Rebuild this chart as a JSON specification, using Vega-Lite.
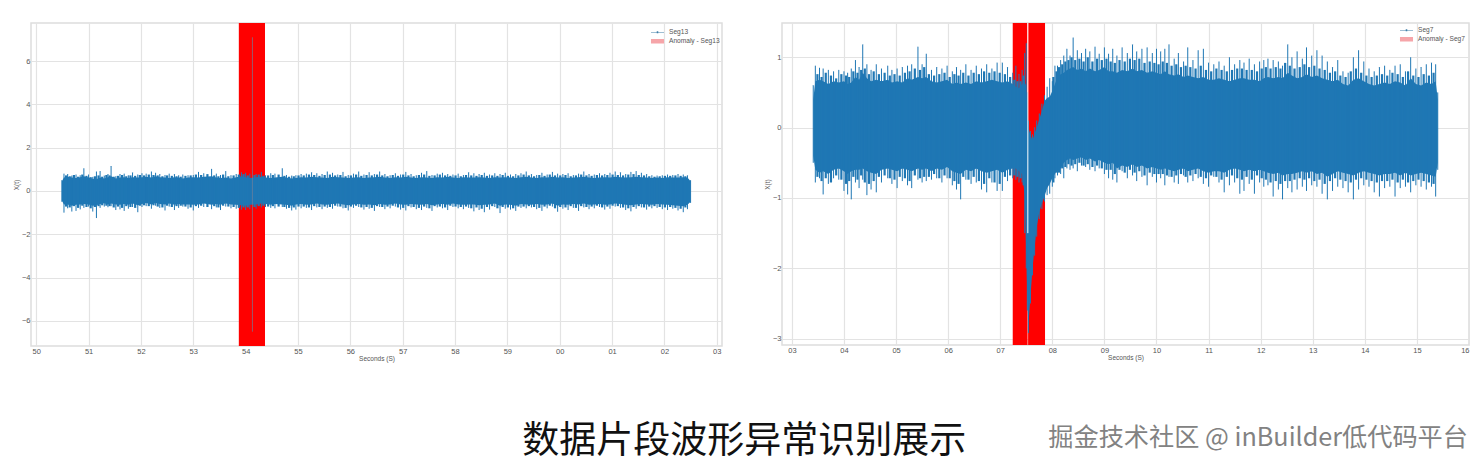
{"$schema":"https://vega.github.io/schema/vega-lite/v6.json","padding":{"left":12,"top":20,"right":0,"bottom":12},"background":"white","spacing":40,"resolve":{"scale":{"color":"independent","shape":"independent"},"legend":{"color":"independent","shape":"independent"}},"title":{"text":"数据片段波形异常识别展示","orient":"bottom","anchor":"start","dx":510,"offset":-28,"font":"Noto Sans CJK SC","fontSize":37,"fontWeight":"normal","color":"#111111"},
"config":{"font":"Liberation Sans","view":{"stroke":"#dddddd","strokeWidth":1.5},"axis":{"grid":true,"gridColor":"#e3e3e3","gridWidth":1.2,"domain":false,"ticks":false,"labelColor":"#555555","labelFontSize":7.5,"titleColor":"#555555","titleFontSize":6.5,"titleFontWeight":"normal","labelPadding":1,"titlePadding":1},"legend":{"labelColor":"#555555","labelFontSize":6.6,"symbolSize":170,"rowPadding":0,"labelOffset":4,"symbolType":"square","clipHeight":8.5,"padding":0}},
"datasets":{"s13":[
{"t":50.49,"a":0.45,"b":-0.45,"h":0.5,"l":-0.5},{"t":50.53,"a":0.62,"b":-0.62,"h":0.8,"l":-1.0},{"t":50.6,"a":0.66,"b":-0.62,"h":0.78,"l":-0.8},{"t":50.68,"a":0.62,"b":-0.68,"h":0.7,"l":-0.95},{"t":50.76,"a":0.6,"b":-0.64,"h":0.76,"l":-0.92},{"t":50.84,"a":0.64,"b":-0.62,"h":0.72,"l":-0.85},{"t":50.91,"a":0.68,"b":-0.6,"h":1.05,"l":-0.78},{"t":51.0,"a":0.62,"b":-0.62,"h":0.76,"l":-0.72},{"t":51.08,"a":0.57,"b":-0.68,"h":0.65,"l":-0.95},{"t":51.15,"a":0.54,"b":-0.66,"h":0.9,"l":-1.25},{"t":51.22,"a":0.62,"b":-0.6,"h":0.92,"l":-0.78},{"t":51.3,"a":0.58,"b":-0.57,"h":0.7,"l":-0.72},{"t":51.37,"a":0.64,"b":-0.62,"h":0.78,"l":-0.75},{"t":51.43,"a":0.68,"b":-0.58,"h":1.15,"l":-0.7},{"t":51.52,"a":0.58,"b":-0.62,"h":0.68,"l":-0.88},{"t":51.6,"a":0.62,"b":-0.64,"h":0.78,"l":-0.85},{"t":51.68,"a":0.64,"b":-0.6,"h":0.8,"l":-0.92},{"t":51.76,"a":0.6,"b":-0.64,"h":0.72,"l":-0.82},{"t":51.84,"a":0.64,"b":-0.58,"h":0.85,"l":-0.74},{"t":51.94,"a":0.62,"b":-0.66,"h":0.76,"l":-0.98},{"t":52.02,"a":0.64,"b":-0.6,"h":0.82,"l":-0.74},{"t":52.1,"a":0.66,"b":-0.56,"h":0.8,"l":-0.7},{"t":52.2,"a":0.62,"b":-0.62,"h":0.9,"l":-0.82},{"t":52.28,"a":0.68,"b":-0.56,"h":0.84,"l":-0.68},{"t":52.36,"a":0.64,"b":-0.6,"h":0.78,"l":-0.78},{"t":52.46,"a":0.62,"b":-0.62,"h":0.74,"l":-0.9},{"t":52.54,"a":0.6,"b":-0.58,"h":0.8,"l":-0.72},{"t":52.64,"a":0.64,"b":-0.64,"h":0.78,"l":-0.88},{"t":52.72,"a":0.62,"b":-0.6,"h":0.72,"l":-0.78},{"t":52.8,"a":0.58,"b":-0.62,"h":0.76,"l":-0.72},{"t":52.9,"a":0.62,"b":-0.62,"h":0.72,"l":-0.82},{"t":53.0,"a":0.64,"b":-0.64,"h":0.74,"l":-0.9},{"t":53.1,"a":0.62,"b":-0.62,"h":0.88,"l":-0.78},{"t":53.2,"a":0.66,"b":-0.58,"h":0.82,"l":-0.74},{"t":53.35,"a":0.68,"b":-0.64,"h":1.02,"l":-0.84},{"t":53.44,"a":0.62,"b":-0.6,"h":0.8,"l":-0.76},{"t":53.52,"a":0.6,"b":-0.64,"h":0.74,"l":-0.88},{"t":53.62,"a":0.62,"b":-0.58,"h":0.92,"l":-0.72},{"t":53.72,"a":0.58,"b":-0.62,"h":0.72,"l":-0.8},{"t":53.82,"a":0.64,"b":-0.64,"h":0.78,"l":-0.82},{"t":53.92,"a":0.68,"b":-0.66,"h":0.86,"l":-0.86},{"t":54.0,"a":0.64,"b":-0.68,"h":0.84,"l":-0.88},{"t":54.08,"a":0.6,"b":-0.64,"h":0.8,"l":-0.84},{"t":54.2,"a":0.64,"b":-0.62,"h":0.78,"l":-0.82},{"t":54.3,"a":0.66,"b":-0.58,"h":0.88,"l":-0.76},{"t":54.38,"a":0.62,"b":-0.6,"h":0.72,"l":-0.74},{"t":54.48,"a":0.6,"b":-0.64,"h":0.82,"l":-0.78},{"t":54.56,"a":0.62,"b":-0.6,"h":0.8,"l":-0.8},{"t":54.7,"a":0.66,"b":-0.62,"h":1.05,"l":-0.74},{"t":54.78,"a":0.62,"b":-0.64,"h":0.74,"l":-0.82},{"t":54.88,"a":0.58,"b":-0.68,"h":0.7,"l":-0.9},{"t":54.96,"a":0.6,"b":-0.62,"h":0.72,"l":-0.86},{"t":55.06,"a":0.64,"b":-0.6,"h":0.78,"l":-0.8},{"t":55.16,"a":0.62,"b":-0.64,"h":0.8,"l":-0.78},{"t":55.26,"a":0.66,"b":-0.62,"h":0.86,"l":-0.88},{"t":55.36,"a":0.64,"b":-0.58,"h":0.82,"l":-0.76},{"t":55.46,"a":0.62,"b":-0.62,"h":0.78,"l":-0.84},{"t":55.56,"a":0.6,"b":-0.64,"h":0.9,"l":-0.78},{"t":55.66,"a":0.66,"b":-0.6,"h":0.84,"l":-0.82},{"t":55.76,"a":0.64,"b":-0.58,"h":0.76,"l":-0.72},{"t":55.86,"a":0.62,"b":-0.62,"h":0.88,"l":-0.8},{"t":55.96,"a":0.6,"b":-0.66,"h":0.74,"l":-0.9},{"t":56.06,"a":0.62,"b":-0.62,"h":0.8,"l":-0.78},{"t":56.16,"a":0.64,"b":-0.6,"h":0.9,"l":-0.74},{"t":56.26,"a":0.6,"b":-0.64,"h":0.76,"l":-0.86},{"t":56.36,"a":0.62,"b":-0.62,"h":0.86,"l":-0.82},{"t":56.46,"a":0.64,"b":-0.66,"h":0.78,"l":-0.92},{"t":56.56,"a":0.66,"b":-0.6,"h":0.9,"l":-0.74},{"t":56.66,"a":0.62,"b":-0.64,"h":0.78,"l":-0.84},{"t":56.76,"a":0.6,"b":-0.62,"h":0.72,"l":-0.8},{"t":56.86,"a":0.64,"b":-0.58,"h":0.82,"l":-0.72},{"t":56.96,"a":0.62,"b":-0.62,"h":0.76,"l":-0.86},{"t":57.06,"a":0.66,"b":-0.64,"h":0.88,"l":-0.9},{"t":57.16,"a":0.62,"b":-0.6,"h":0.78,"l":-0.76},{"t":57.26,"a":0.6,"b":-0.62,"h":0.72,"l":-0.84},{"t":57.36,"a":0.64,"b":-0.64,"h":0.84,"l":-0.88},{"t":57.46,"a":0.62,"b":-0.6,"h":0.92,"l":-0.78},{"t":57.56,"a":0.6,"b":-0.66,"h":0.74,"l":-0.92},{"t":57.66,"a":0.64,"b":-0.62,"h":0.8,"l":-0.76},{"t":57.76,"a":0.62,"b":-0.6,"h":0.84,"l":-0.8},{"t":57.86,"a":0.66,"b":-0.64,"h":0.78,"l":-0.88},{"t":57.96,"a":0.62,"b":-0.58,"h":0.76,"l":-0.74},{"t":58.06,"a":0.6,"b":-0.62,"h":0.8,"l":-0.8},{"t":58.16,"a":0.64,"b":-0.64,"h":0.74,"l":-0.84},{"t":58.26,"a":0.62,"b":-0.62,"h":0.86,"l":-0.78},{"t":58.36,"a":0.62,"b":-0.62,"h":0.82,"l":-0.94},{"t":58.46,"a":0.64,"b":-0.66,"h":0.78,"l":-0.88},{"t":58.56,"a":0.62,"b":-0.64,"h":0.84,"l":-0.98},{"t":58.66,"a":0.6,"b":-0.62,"h":0.76,"l":-0.86},{"t":58.76,"a":0.64,"b":-0.58,"h":0.82,"l":-0.74},{"t":58.86,"a":0.62,"b":-0.68,"h":0.78,"l":-1.02},{"t":58.96,"a":0.64,"b":-0.62,"h":0.84,"l":-0.82},{"t":59.06,"a":0.62,"b":-0.64,"h":0.76,"l":-0.86},{"t":59.16,"a":0.6,"b":-0.68,"h":0.78,"l":-0.92},{"t":59.26,"a":0.64,"b":-0.6,"h":0.82,"l":-0.78},{"t":59.36,"a":0.66,"b":-0.62,"h":0.9,"l":-0.8},{"t":59.46,"a":0.62,"b":-0.64,"h":0.78,"l":-0.76},{"t":59.56,"a":0.6,"b":-0.6,"h":0.74,"l":-0.84},{"t":59.66,"a":0.64,"b":-0.64,"h":0.84,"l":-0.92},{"t":59.76,"a":0.62,"b":-0.62,"h":0.76,"l":-0.8},{"t":59.86,"a":0.66,"b":-0.58,"h":0.88,"l":-0.72},{"t":59.96,"a":0.62,"b":-0.68,"h":0.8,"l":-0.96},{"t":60.06,"a":0.64,"b":-0.62,"h":0.78,"l":-0.82},{"t":60.16,"a":0.6,"b":-0.64,"h":0.82,"l":-0.88},{"t":60.26,"a":0.62,"b":-0.6,"h":0.74,"l":-0.78},{"t":60.36,"a":0.64,"b":-0.62,"h":0.8,"l":-0.92},{"t":60.46,"a":0.66,"b":-0.58,"h":0.9,"l":-0.76},{"t":60.56,"a":0.62,"b":-0.64,"h":0.78,"l":-0.84},{"t":60.66,"a":0.6,"b":-0.62,"h":0.76,"l":-0.8},{"t":60.76,"a":0.62,"b":-0.6,"h":0.82,"l":-0.74},{"t":60.86,"a":0.64,"b":-0.64,"h":0.78,"l":-0.86},{"t":60.96,"a":0.62,"b":-0.62,"h":0.84,"l":-0.82},{"t":61.06,"a":0.66,"b":-0.58,"h":0.9,"l":-0.72},{"t":61.16,"a":0.64,"b":-0.6,"h":0.86,"l":-0.78},{"t":61.26,"a":0.62,"b":-0.64,"h":0.78,"l":-0.88},{"t":61.36,"a":0.64,"b":-0.66,"h":0.88,"l":-0.94},{"t":61.46,"a":0.66,"b":-0.62,"h":0.92,"l":-0.82},{"t":61.56,"a":0.64,"b":-0.6,"h":0.84,"l":-0.76},{"t":61.66,"a":0.62,"b":-0.62,"h":0.78,"l":-0.86},{"t":61.76,"a":0.6,"b":-0.64,"h":0.72,"l":-0.8},{"t":61.86,"a":0.62,"b":-0.6,"h":0.7,"l":-0.78},{"t":61.96,"a":0.6,"b":-0.62,"h":0.72,"l":-0.84},{"t":62.06,"a":0.64,"b":-0.64,"h":0.76,"l":-0.88},{"t":62.16,"a":0.62,"b":-0.66,"h":0.74,"l":-0.82},{"t":62.26,"a":0.62,"b":-0.68,"h":0.78,"l":-0.9},{"t":62.36,"a":0.64,"b":-0.7,"h":0.76,"l":-0.98},{"t":62.44,"a":0.62,"b":-0.64,"h":0.72,"l":-0.84},{"t":62.5,"a":0.45,"b":-0.5,"h":0.5,"l":-0.55}],
"s13b":[
{"t":50.57,"h":0.72,"l":-0.72},{"t":50.64,"h":0.68,"l":-0.76},{"t":50.72,"h":0.74,"l":-0.7},{"t":50.8,"h":0.66,"l":-0.78},{"t":50.88,"h":0.76,"l":-0.68},{"t":50.96,"h":0.7,"l":-0.74},{"t":51.04,"h":0.64,"l":-0.8},{"t":51.12,"h":0.68,"l":-0.74},{"t":51.19,"h":0.72,"l":-0.7},{"t":51.26,"h":0.66,"l":-0.66},{"t":51.34,"h":0.74,"l":-0.68},{"t":51.4,"h":0.72,"l":-0.7},{"t":51.48,"h":0.66,"l":-0.76},{"t":51.56,"h":0.7,"l":-0.72},{"t":51.64,"h":0.74,"l":-0.78},{"t":51.72,"h":0.68,"l":-0.7},{"t":51.8,"h":0.72,"l":-0.74},{"t":51.89,"h":0.7,"l":-0.78},{"t":51.98,"h":0.74,"l":-0.68},{"t":52.06,"h":0.72,"l":-0.66},{"t":52.15,"h":0.76,"l":-0.7},{"t":52.24,"h":0.74,"l":-0.66},{"t":52.32,"h":0.72,"l":-0.72},{"t":52.41,"h":0.68,"l":-0.76},{"t":52.5,"h":0.72,"l":-0.68},{"t":52.59,"h":0.7,"l":-0.74},{"t":52.68,"h":0.68,"l":-0.7},{"t":52.76,"h":0.66,"l":-0.68},{"t":52.85,"h":0.7,"l":-0.72},{"t":52.95,"h":0.72,"l":-0.76},{"t":53.05,"h":0.76,"l":-0.7},{"t":53.15,"h":0.74,"l":-0.68},{"t":53.27,"h":0.78,"l":-0.74},{"t":53.4,"h":0.72,"l":-0.7},{"t":53.48,"h":0.68,"l":-0.76},{"t":53.57,"h":0.76,"l":-0.68},{"t":53.67,"h":0.68,"l":-0.72},{"t":53.77,"h":0.72,"l":-0.74},{"t":53.87,"h":0.76,"l":-0.78},{"t":53.96,"h":0.78,"l":-0.76},{"t":54.04,"h":0.72,"l":-0.76},{"t":54.17,"h":0.74,"l":-0.74},{"t":54.25,"h":0.76,"l":-0.7},{"t":54.34,"h":0.7,"l":-0.68},{"t":54.43,"h":0.72,"l":-0.72},{"t":54.52,"h":0.74,"l":-0.7},{"t":54.63,"h":0.76,"l":-0.72},{"t":54.74,"h":0.7,"l":-0.74},{"t":54.83,"h":0.66,"l":-0.78},{"t":54.92,"h":0.68,"l":-0.76},{"t":55.01,"h":0.72,"l":-0.72},{"t":55.11,"h":0.72,"l":-0.72},{"t":55.21,"h":0.76,"l":-0.76},{"t":55.31,"h":0.74,"l":-0.7},{"t":55.41,"h":0.7,"l":-0.74},{"t":55.51,"h":0.74,"l":-0.72},{"t":55.61,"h":0.76,"l":-0.74},{"t":55.71,"h":0.72,"l":-0.68},{"t":55.81,"h":0.74,"l":-0.72},{"t":55.91,"h":0.68,"l":-0.78},{"t":56.01,"h":0.72,"l":-0.72},{"t":56.11,"h":0.76,"l":-0.68},{"t":56.21,"h":0.7,"l":-0.76},{"t":56.31,"h":0.74,"l":-0.74},{"t":56.41,"h":0.72,"l":-0.78},{"t":56.51,"h":0.76,"l":-0.7},{"t":56.61,"h":0.72,"l":-0.74},{"t":56.71,"h":0.68,"l":-0.72},{"t":56.81,"h":0.74,"l":-0.68},{"t":56.91,"h":0.7,"l":-0.76},{"t":57.01,"h":0.76,"l":-0.78},{"t":57.11,"h":0.72,"l":-0.7},{"t":57.21,"h":0.68,"l":-0.74},{"t":57.31,"h":0.74,"l":-0.78},{"t":57.41,"h":0.76,"l":-0.72},{"t":57.51,"h":0.7,"l":-0.8},{"t":57.61,"h":0.72,"l":-0.7},{"t":57.71,"h":0.76,"l":-0.72},{"t":57.81,"h":0.72,"l":-0.76},{"t":57.91,"h":0.7,"l":-0.68},{"t":58.01,"h":0.72,"l":-0.72},{"t":58.11,"h":0.68,"l":-0.74},{"t":58.21,"h":0.74,"l":-0.72},{"t":58.31,"h":0.72,"l":-0.8},{"t":58.41,"h":0.7,"l":-0.76},{"t":58.51,"h":0.74,"l":-0.82},{"t":58.61,"h":0.7,"l":-0.74},{"t":58.71,"h":0.72,"l":-0.7},{"t":58.81,"h":0.7,"l":-0.8},{"t":58.91,"h":0.74,"l":-0.74},{"t":59.01,"h":0.7,"l":-0.76},{"t":59.11,"h":0.68,"l":-0.8},{"t":59.21,"h":0.72,"l":-0.72},{"t":59.31,"h":0.76,"l":-0.72},{"t":59.41,"h":0.72,"l":-0.7},{"t":59.51,"h":0.68,"l":-0.74},{"t":59.61,"h":0.74,"l":-0.78},{"t":59.71,"h":0.7,"l":-0.72},{"t":59.81,"h":0.76,"l":-0.68},{"t":59.91,"h":0.72,"l":-0.8},{"t":60.01,"h":0.72,"l":-0.74},{"t":60.11,"h":0.74,"l":-0.76},{"t":60.21,"h":0.68,"l":-0.7},{"t":60.31,"h":0.72,"l":-0.78},{"t":60.41,"h":0.76,"l":-0.7},{"t":60.51,"h":0.72,"l":-0.74},{"t":60.61,"h":0.7,"l":-0.72},{"t":60.71,"h":0.74,"l":-0.68},{"t":60.81,"h":0.72,"l":-0.76},{"t":60.91,"h":0.74,"l":-0.72},{"t":61.01,"h":0.76,"l":-0.68},{"t":61.11,"h":0.74,"l":-0.7},{"t":61.21,"h":0.72,"l":-0.76},{"t":61.31,"h":0.76,"l":-0.8},{"t":61.41,"h":0.78,"l":-0.74},{"t":61.51,"h":0.74,"l":-0.7},{"t":61.61,"h":0.72,"l":-0.76},{"t":61.71,"h":0.68,"l":-0.72},{"t":61.81,"h":0.66,"l":-0.7},{"t":61.91,"h":0.68,"l":-0.74},{"t":62.01,"h":0.7,"l":-0.76},{"t":62.11,"h":0.7,"l":-0.74},{"t":62.21,"h":0.72,"l":-0.78},{"t":62.31,"h":0.7,"l":-0.82},{"t":62.4,"h":0.68,"l":-0.76}],
"s7":[
{"t":3.41,"a":0.4,"b":-0.4,"h":0.6,"l":-0.5},{"t":3.45,"a":0.66,"b":-0.6,"h":0.88,"l":-0.78},{"t":3.53,"a":0.68,"b":-0.64,"h":0.85,"l":-0.72},{"t":3.6,"a":0.66,"b":-0.62,"h":0.84,"l":-0.95},{"t":3.7,"a":0.62,"b":-0.66,"h":0.82,"l":-0.8},{"t":3.8,"a":0.66,"b":-0.6,"h":0.8,"l":-0.72},{"t":3.9,"a":0.64,"b":-0.58,"h":0.82,"l":-0.74},{"t":4.0,"a":0.66,"b":-0.62,"h":0.8,"l":-0.9},{"t":4.07,"a":0.62,"b":-0.66,"h":0.78,"l":-0.95},{"t":4.14,"a":0.64,"b":-0.62,"h":0.84,"l":-1.02},{"t":4.22,"a":0.72,"b":-0.6,"h":0.96,"l":-0.78},{"t":4.29,"a":0.68,"b":-0.6,"h":0.86,"l":-0.86},{"t":4.36,"a":0.78,"b":-0.58,"h":1.18,"l":-0.74},{"t":4.44,"a":0.7,"b":-0.62,"h":0.9,"l":-0.96},{"t":4.52,"a":0.66,"b":-0.64,"h":0.82,"l":-0.88},{"t":4.62,"a":0.68,"b":-0.66,"h":0.9,"l":-0.92},{"t":4.72,"a":0.66,"b":-0.6,"h":0.84,"l":-0.78},{"t":4.84,"a":0.68,"b":-0.58,"h":0.88,"l":-0.72},{"t":4.92,"a":0.64,"b":-0.6,"h":0.82,"l":-0.8},{"t":5.02,"a":0.66,"b":-0.62,"h":0.84,"l":-0.86},{"t":5.12,"a":0.64,"b":-0.58,"h":0.86,"l":-0.76},{"t":5.22,"a":0.7,"b":-0.6,"h":0.88,"l":-0.82},{"t":5.3,"a":0.68,"b":-0.62,"h":0.9,"l":-0.86},{"t":5.42,"a":0.72,"b":-0.58,"h":1.15,"l":-0.74},{"t":5.5,"a":0.7,"b":-0.6,"h":0.9,"l":-0.78},{"t":5.58,"a":0.72,"b":-0.58,"h":1.05,"l":-0.76},{"t":5.68,"a":0.66,"b":-0.62,"h":0.82,"l":-0.74},{"t":5.78,"a":0.64,"b":-0.58,"h":0.86,"l":-0.72},{"t":5.88,"a":0.66,"b":-0.6,"h":0.84,"l":-0.78},{"t":5.98,"a":0.68,"b":-0.56,"h":0.88,"l":-0.72},{"t":6.08,"a":0.62,"b":-0.62,"h":0.8,"l":-0.82},{"t":6.16,"a":0.64,"b":-0.64,"h":0.86,"l":-0.88},{"t":6.24,"a":0.62,"b":-0.66,"h":0.82,"l":-1.02},{"t":6.34,"a":0.64,"b":-0.6,"h":0.9,"l":-0.74},{"t":6.44,"a":0.62,"b":-0.62,"h":0.82,"l":-0.8},{"t":6.54,"a":0.66,"b":-0.58,"h":0.88,"l":-0.78},{"t":6.64,"a":0.64,"b":-0.62,"h":0.84,"l":-0.88},{"t":6.74,"a":0.66,"b":-0.64,"h":0.9,"l":-0.92},{"t":6.84,"a":0.68,"b":-0.62,"h":0.84,"l":-0.78},{"t":6.94,"a":0.66,"b":-0.6,"h":0.92,"l":-0.9},{"t":7.04,"a":0.64,"b":-0.64,"h":0.92,"l":-0.9},{"t":7.14,"a":0.66,"b":-0.6,"h":0.86,"l":-0.76},{"t":7.24,"a":0.62,"b":-0.58,"h":0.78,"l":-0.72},{"t":7.3,"a":0.58,"b":-0.58,"h":0.88,"l":-0.74},{"t":7.36,"a":0.56,"b":-0.62,"h":0.76,"l":-0.78},{"t":7.42,"a":0.62,"b":-0.66,"h":0.82,"l":-0.78},{"t":7.47,"a":0.64,"b":-0.95,"h":1.06,"l":-1.5},{"t":7.5,"a":0.6,"b":-1.8,"h":1.2,"l":-2.0},{"t":7.52,"a":0.3,"b":-2.4,"h":0.5,"l":-2.6},{"t":7.54,"a":0.0,"b":-2.82,"h":0.1,"l":-2.92},{"t":7.58,"a":-0.1,"b":-2.4,"h":-0.05,"l":-2.5},{"t":7.62,"a":-0.18,"b":-2.0,"h":-0.1,"l":-2.1},{"t":7.66,"a":-0.08,"b":-1.7,"h":0.0,"l":-1.82},{"t":7.7,"a":0.0,"b":-1.42,"h":0.1,"l":-1.55},{"t":7.75,"a":0.12,"b":-1.2,"h":0.2,"l":-1.3},{"t":7.8,"a":0.24,"b":-1.08,"h":0.34,"l":-1.16},{"t":7.85,"a":0.38,"b":-0.98,"h":0.46,"l":-1.05},{"t":7.9,"a":0.42,"b":-0.86,"h":0.58,"l":-0.96},{"t":7.95,"a":0.44,"b":-0.8,"h":0.7,"l":-0.94},{"t":8.0,"a":0.52,"b":-0.72,"h":0.66,"l":-0.84},{"t":8.05,"a":0.62,"b":-0.66,"h":0.88,"l":-0.72},{"t":8.1,"a":0.72,"b":-0.6,"h":0.88,"l":-0.68},{"t":8.16,"a":0.76,"b":-0.58,"h":0.96,"l":-0.66},{"t":8.22,"a":0.78,"b":-0.5,"h":1.02,"l":-0.72},{"t":8.28,"a":0.82,"b":-0.46,"h":1.12,"l":-0.58},{"t":8.34,"a":0.84,"b":-0.44,"h":1.02,"l":-0.6},{"t":8.4,"a":0.86,"b":-0.46,"h":1.28,"l":-0.58},{"t":8.48,"a":0.82,"b":-0.44,"h":1.1,"l":-0.62},{"t":8.56,"a":0.84,"b":-0.42,"h":1.06,"l":-0.54},{"t":8.64,"a":0.8,"b":-0.46,"h":1.12,"l":-0.56},{"t":8.72,"a":0.84,"b":-0.44,"h":1.08,"l":-0.6},{"t":8.82,"a":0.8,"b":-0.48,"h":1.15,"l":-0.62},{"t":8.9,"a":0.82,"b":-0.46,"h":1.05,"l":-0.58},{"t":9.0,"a":0.86,"b":-0.5,"h":1.14,"l":-0.66},{"t":9.08,"a":0.8,"b":-0.52,"h":1.05,"l":-0.72},{"t":9.16,"a":0.8,"b":-0.5,"h":1.12,"l":-0.74},{"t":9.24,"a":0.78,"b":-0.58,"h":1.02,"l":-0.78},{"t":9.34,"a":0.82,"b":-0.54,"h":1.14,"l":-0.62},{"t":9.44,"a":0.8,"b":-0.56,"h":1.06,"l":-0.72},{"t":9.54,"a":0.84,"b":-0.52,"h":1.18,"l":-0.68},{"t":9.62,"a":0.8,"b":-0.56,"h":1.08,"l":-0.76},{"t":9.72,"a":0.82,"b":-0.54,"h":1.12,"l":-0.7},{"t":9.82,"a":0.78,"b":-0.58,"h":1.14,"l":-0.82},{"t":9.92,"a":0.8,"b":-0.56,"h":1.06,"l":-0.7},{"t":10.0,"a":0.78,"b":-0.58,"h":1.12,"l":-0.78},{"t":10.08,"a":0.76,"b":-0.6,"h":1.08,"l":-0.72},{"t":10.16,"a":0.8,"b":-0.58,"h":1.12,"l":-0.82},{"t":10.24,"a":0.76,"b":-0.6,"h":1.18,"l":-0.7},{"t":10.34,"a":0.74,"b":-0.62,"h":0.98,"l":-0.78},{"t":10.42,"a":0.76,"b":-0.6,"h":1.06,"l":-0.8},{"t":10.52,"a":0.72,"b":-0.58,"h":0.94,"l":-0.68},{"t":10.6,"a":0.74,"b":-0.62,"h":1.14,"l":-0.78},{"t":10.7,"a":0.72,"b":-0.6,"h":0.96,"l":-0.76},{"t":10.8,"a":0.7,"b":-0.58,"h":1.1,"l":-0.72},{"t":10.9,"a":0.72,"b":-0.62,"h":1.12,"l":-0.8},{"t":11.0,"a":0.68,"b":-0.64,"h":0.92,"l":-0.84},{"t":11.1,"a":0.68,"b":-0.62,"h":0.9,"l":-0.7},{"t":11.2,"a":0.7,"b":-0.62,"h":0.94,"l":-0.78},{"t":11.3,"a":0.68,"b":-0.64,"h":0.88,"l":-0.92},{"t":11.4,"a":0.66,"b":-0.6,"h":1.0,"l":-0.82},{"t":11.5,"a":0.68,"b":-0.58,"h":0.9,"l":-0.78},{"t":11.6,"a":0.7,"b":-0.6,"h":0.96,"l":-0.94},{"t":11.68,"a":0.7,"b":-0.62,"h":0.92,"l":-0.9},{"t":11.78,"a":0.68,"b":-0.6,"h":0.98,"l":-0.8},{"t":11.88,"a":0.68,"b":-0.62,"h":0.9,"l":-0.94},{"t":11.98,"a":0.66,"b":-0.6,"h":0.94,"l":-0.78},{"t":12.06,"a":0.7,"b":-0.62,"h":0.96,"l":-0.84},{"t":12.14,"a":0.72,"b":-0.64,"h":0.98,"l":-0.82},{"t":12.24,"a":0.7,"b":-0.66,"h":0.96,"l":-0.98},{"t":12.34,"a":0.72,"b":-0.64,"h":0.94,"l":-0.88},{"t":12.42,"a":0.7,"b":-0.68,"h":0.88,"l":-1.02},{"t":12.52,"a":0.78,"b":-0.66,"h":1.18,"l":-0.86},{"t":12.6,"a":0.74,"b":-0.66,"h":1.0,"l":-0.92},{"t":12.7,"a":0.7,"b":-0.64,"h":1.08,"l":-0.88},{"t":12.8,"a":0.72,"b":-0.62,"h":0.98,"l":-0.84},{"t":12.88,"a":0.76,"b":-0.64,"h":1.14,"l":-0.9},{"t":12.98,"a":0.72,"b":-0.62,"h":1.02,"l":-0.82},{"t":13.08,"a":0.74,"b":-0.66,"h":1.1,"l":-0.84},{"t":13.18,"a":0.7,"b":-0.64,"h":1.02,"l":-0.94},{"t":13.28,"a":0.68,"b":-0.7,"h":0.94,"l":-1.02},{"t":13.38,"a":0.66,"b":-0.66,"h":0.86,"l":-0.9},{"t":13.48,"a":0.68,"b":-0.62,"h":0.96,"l":-0.84},{"t":13.58,"a":0.62,"b":-0.64,"h":0.8,"l":-0.86},{"t":13.68,"a":0.6,"b":-0.66,"h":0.78,"l":-0.92},{"t":13.78,"a":0.68,"b":-0.68,"h":1.0,"l":-1.02},{"t":13.88,"a":0.7,"b":-0.64,"h":1.1,"l":-0.88},{"t":13.98,"a":0.66,"b":-0.62,"h":0.94,"l":-0.82},{"t":14.08,"a":0.62,"b":-0.64,"h":0.84,"l":-0.84},{"t":14.18,"a":0.6,"b":-0.66,"h":0.8,"l":-0.92},{"t":14.28,"a":0.62,"b":-0.68,"h":0.86,"l":-0.98},{"t":14.38,"a":0.64,"b":-0.66,"h":0.88,"l":-0.86},{"t":14.48,"a":0.62,"b":-0.66,"h":0.82,"l":-0.84},{"t":14.58,"a":0.66,"b":-0.64,"h":0.88,"l":-0.98},{"t":14.68,"a":0.64,"b":-0.68,"h":0.9,"l":-0.86},{"t":14.78,"a":0.6,"b":-0.64,"h":0.8,"l":-0.84},{"t":14.88,"a":0.7,"b":-0.68,"h":1.0,"l":-0.92},{"t":14.98,"a":0.62,"b":-0.66,"h":0.84,"l":-0.82},{"t":15.08,"a":0.6,"b":-0.64,"h":0.86,"l":-0.84},{"t":15.18,"a":0.64,"b":-0.66,"h":0.9,"l":-0.88},{"t":15.28,"a":0.62,"b":-0.68,"h":0.92,"l":-0.84},{"t":15.36,"a":0.66,"b":-0.7,"h":0.9,"l":-0.98},{"t":15.4,"a":0.4,"b":-0.5,"h":0.5,"l":-0.6}],
"s7b":[
{"t":3.49,"h":0.76,"l":-0.7},{"t":3.57,"h":0.72,"l":-0.76},{"t":3.65,"h":0.78,"l":-0.72},{"t":3.75,"h":0.74,"l":-0.78},{"t":3.85,"h":0.7,"l":-0.68},{"t":3.95,"h":0.76,"l":-0.74},{"t":4.04,"h":0.74,"l":-0.8},{"t":4.1,"h":0.72,"l":-0.76},{"t":4.18,"h":0.8,"l":-0.7},{"t":4.26,"h":0.78,"l":-0.74},{"t":4.33,"h":0.82,"l":-0.68},{"t":4.4,"h":0.84,"l":-0.78},{"t":4.48,"h":0.76,"l":-0.8},{"t":4.57,"h":0.8,"l":-0.76},{"t":4.67,"h":0.76,"l":-0.7},{"t":4.78,"h":0.78,"l":-0.68},{"t":4.88,"h":0.74,"l":-0.72},{"t":4.97,"h":0.76,"l":-0.74},{"t":5.07,"h":0.74,"l":-0.7},{"t":5.17,"h":0.78,"l":-0.72},{"t":5.26,"h":0.8,"l":-0.76},{"t":5.36,"h":0.84,"l":-0.68},{"t":5.46,"h":0.82,"l":-0.72},{"t":5.54,"h":0.86,"l":-0.7},{"t":5.63,"h":0.76,"l":-0.7},{"t":5.73,"h":0.74,"l":-0.66},{"t":5.83,"h":0.76,"l":-0.72},{"t":5.93,"h":0.78,"l":-0.68},{"t":6.03,"h":0.72,"l":-0.72},{"t":6.12,"h":0.76,"l":-0.76},{"t":6.2,"h":0.74,"l":-0.8},{"t":6.29,"h":0.78,"l":-0.7},{"t":6.39,"h":0.74,"l":-0.74},{"t":6.49,"h":0.78,"l":-0.7},{"t":6.59,"h":0.76,"l":-0.76},{"t":6.69,"h":0.8,"l":-0.8},{"t":6.79,"h":0.78,"l":-0.72},{"t":6.89,"h":0.8,"l":-0.78},{"t":6.99,"h":0.78,"l":-0.8},{"t":7.09,"h":0.76,"l":-0.7},{"t":7.19,"h":0.72,"l":-0.68},{"t":7.27,"h":0.68,"l":-0.68},{"t":7.33,"h":0.66,"l":-0.7},{"t":7.39,"h":0.66,"l":-0.72},{"t":7.45,"h":0.74,"l":-0.82},{"t":8.02,"h":0.72,"l":-0.78},{"t":8.08,"h":0.8,"l":-0.64},{"t":8.13,"h":0.86,"l":-0.64},{"t":8.19,"h":0.9,"l":-0.58},{"t":8.25,"h":0.94,"l":-0.56},{"t":8.31,"h":0.96,"l":-0.52},{"t":8.37,"h":1.0,"l":-0.54},{"t":8.44,"h":0.96,"l":-0.52},{"t":8.52,"h":0.98,"l":-0.5},{"t":8.6,"h":0.94,"l":-0.54},{"t":8.68,"h":1.0,"l":-0.52},{"t":8.77,"h":0.94,"l":-0.56},{"t":8.86,"h":0.98,"l":-0.54},{"t":8.95,"h":0.96,"l":-0.58},{"t":9.04,"h":0.98,"l":-0.6},{"t":9.12,"h":0.94,"l":-0.6},{"t":9.2,"h":0.92,"l":-0.66},{"t":9.29,"h":0.96,"l":-0.6},{"t":9.39,"h":0.94,"l":-0.64},{"t":9.49,"h":0.98,"l":-0.6},{"t":9.58,"h":0.96,"l":-0.64},{"t":9.67,"h":0.98,"l":-0.62},{"t":9.77,"h":0.92,"l":-0.68},{"t":9.87,"h":0.94,"l":-0.64},{"t":9.96,"h":0.92,"l":-0.66},{"t":10.04,"h":0.9,"l":-0.66},{"t":10.12,"h":0.94,"l":-0.66},{"t":10.2,"h":0.92,"l":-0.68},{"t":10.29,"h":0.88,"l":-0.7},{"t":10.38,"h":0.9,"l":-0.68},{"t":10.47,"h":0.86,"l":-0.66},{"t":10.56,"h":0.88,"l":-0.7},{"t":10.65,"h":0.86,"l":-0.68},{"t":10.75,"h":0.84,"l":-0.66},{"t":10.85,"h":0.88,"l":-0.7},{"t":10.95,"h":0.82,"l":-0.72},{"t":11.05,"h":0.8,"l":-0.68},{"t":11.15,"h":0.84,"l":-0.7},{"t":11.25,"h":0.82,"l":-0.74},{"t":11.35,"h":0.8,"l":-0.7},{"t":11.45,"h":0.82,"l":-0.68},{"t":11.55,"h":0.84,"l":-0.72},{"t":11.64,"h":0.84,"l":-0.74},{"t":11.73,"h":0.82,"l":-0.7},{"t":11.83,"h":0.82,"l":-0.74},{"t":11.93,"h":0.8,"l":-0.68},{"t":12.02,"h":0.84,"l":-0.72},{"t":12.1,"h":0.86,"l":-0.74},{"t":12.19,"h":0.84,"l":-0.78},{"t":12.29,"h":0.86,"l":-0.76},{"t":12.38,"h":0.84,"l":-0.8},{"t":12.47,"h":0.92,"l":-0.76},{"t":12.56,"h":0.88,"l":-0.76},{"t":12.65,"h":0.84,"l":-0.74},{"t":12.75,"h":0.86,"l":-0.72},{"t":12.84,"h":0.9,"l":-0.74},{"t":12.93,"h":0.86,"l":-0.72},{"t":13.03,"h":0.88,"l":-0.76},{"t":13.13,"h":0.84,"l":-0.74},{"t":13.23,"h":0.82,"l":-0.8},{"t":13.33,"h":0.78,"l":-0.76},{"t":13.43,"h":0.8,"l":-0.72},{"t":13.53,"h":0.74,"l":-0.74},{"t":13.63,"h":0.72,"l":-0.76},{"t":13.73,"h":0.8,"l":-0.78},{"t":13.83,"h":0.84,"l":-0.74},{"t":13.93,"h":0.78,"l":-0.72},{"t":14.03,"h":0.74,"l":-0.74},{"t":14.13,"h":0.72,"l":-0.76},{"t":14.23,"h":0.74,"l":-0.78},{"t":14.33,"h":0.76,"l":-0.76},{"t":14.43,"h":0.74,"l":-0.76},{"t":14.53,"h":0.78,"l":-0.74},{"t":14.63,"h":0.76,"l":-0.78},{"t":14.73,"h":0.72,"l":-0.74},{"t":14.83,"h":0.8,"l":-0.78},{"t":14.93,"h":0.74,"l":-0.76},{"t":15.03,"h":0.72,"l":-0.74},{"t":15.13,"h":0.76,"l":-0.76},{"t":15.23,"h":0.74,"l":-0.78},{"t":15.32,"h":0.78,"l":-0.8}]},
"hconcat":[
{"width":691,"height":323,"title":{"text":" ","fontSize":1,"offset":1},"layer":[
{"data":{"values":[{"s":53.87,"e":54.37}]},"mark":{"type":"rect","color":"#ff0000"},"encoding":{"x":{"field":"s","type":"quantitative","scale":{"domain":[49.9,63.1],"nice":false},"axis":{"title":"Seconds (S)","values":[50,51,52,53,54,55,56,57,58,59,60,61,62,63],"labelExpr":"datum.value>=60?'0'+(datum.value-60):''+datum.value"},"title":"Seconds (S)"},"x2":{"field":"e"},"y":{"datum":-7.16,"type":"quantitative","scale":{"domain":[-7.16,7.76],"nice":false},"axis":{"title":"X(t)","values":[-6,-4,-2,0,2,4,6],"format":"d","labelExpr":"replace(datum.label,'-','−')","titleX":-12}},"y2":{"datum":7.76}}},
{"data":{"name":"s13"},"mark":{"type":"area","color":"#1f77b4","opacity":1},"encoding":{"x":{"field":"t","type":"quantitative"},"y":{"field":"a","type":"quantitative"},"y2":{"field":"b"}}},
{"data":{"name":"s13"},"mark":{"type":"rule","color":"#1f77b4","strokeWidth":1},"encoding":{"x":{"field":"t","type":"quantitative"},"y":{"field":"h","type":"quantitative"},"y2":{"field":"l"}}},
{"data":{"name":"s13b"},"mark":{"type":"rule","color":"#1f77b4","strokeWidth":2.2},"encoding":{"x":{"field":"t","type":"quantitative"},"y":{"field":"h","type":"quantitative"},"y2":{"field":"l"}}},
{"data":{"values":[{"t":54.13,"h":7.1,"l":-6.5}]},"mark":{"type":"rule","color":"#6f7f9a","strokeWidth":0.7},"encoding":{"x":{"field":"t","type":"quantitative"},"y":{"field":"h","type":"quantitative"},"y2":{"field":"l"}}},
{"data":{"name":"s13"},"mark":{"type":"point","filled":true,"size":2,"opacity":1},"encoding":{"x":{"field":"t","type":"quantitative"},"y":{"field":"h","type":"quantitative"},"color":{"datum":"Seg13","scale":{"domain":["Seg13","Anomaly - Seg13"],"range":["#3f7fa8","#f6a5a9"]},"legend":{"title":null,"orient":"none","legendX":619,"legendY":5}},"shape":{"datum":"Seg13","scale":{"domain":["Seg13","Anomaly - Seg13"],"range":["M-1,-.05H-.12V-.14H.12V-.05H1V.05H.12V.14H-.12V.05H-1Z","M-1,-.36H1V.36H-1Z"]}}}}
]},
{"width":687,"height":322,"title":{"text":"掘金技术社区 @ inBuilder低代码平台","orient":"bottom","anchor":"end","dx":-1,"offset":65,"font":"Noto Sans CJK SC","fontSize":25.2,"fontWeight":"normal","color":"#828282"},"layer":[
{"data":{"values":[{"s":7.24,"e":7.525},{"s":7.535,"e":7.86}]},"mark":{"type":"rect","color":"#ff0000"},"encoding":{"x":{"field":"s","type":"quantitative","scale":{"domain":[2.81,16],"nice":false},"axis":{"title":"Seconds (S)","values":[3,4,5,6,7,8,9,10,11,12,13,14,15,16],"format":"02d"},"title":"Seconds (S)"},"x2":{"field":"e"},"y":{"datum":-3.09,"type":"quantitative","scale":{"domain":[-3.09,1.487],"nice":false},"axis":{"title":"X(t)","values":[-3,-2,-1,0,1],"format":"d","labelExpr":"replace(datum.label,'-','−')","titleX":-12}},"y2":{"datum":1.487}}},
{"data":{"name":"s7"},"mark":{"type":"area","color":"#1f77b4","opacity":1},"encoding":{"x":{"field":"t","type":"quantitative"},"y":{"field":"a","type":"quantitative"},"y2":{"field":"b"}}},
{"data":{"name":"s7"},"mark":{"type":"rule","color":"#1f77b4","strokeWidth":1},"encoding":{"x":{"field":"t","type":"quantitative"},"y":{"field":"h","type":"quantitative"},"y2":{"field":"l"}}},
{"data":{"name":"s7b"},"mark":{"type":"rule","color":"#1f77b4","strokeWidth":2.2},"encoding":{"x":{"field":"t","type":"quantitative"},"y":{"field":"h","type":"quantitative"},"y2":{"field":"l"}}},
{"data":{"values":[{"t":7.53,"h":1.487,"l":-1.5}]},"mark":{"type":"rule","color":"#ffffff","strokeWidth":1},"encoding":{"x":{"field":"t","type":"quantitative"},"y":{"field":"h","type":"quantitative"},"y2":{"field":"l"}}},
{"data":{"name":"s7"},"mark":{"type":"point","filled":true,"size":2,"opacity":1},"encoding":{"x":{"field":"t","type":"quantitative"},"y":{"field":"h","type":"quantitative"},"color":{"datum":"Seg7","scale":{"domain":["Seg7","Anomaly - Seg7"],"range":["#3f7fa8","#f6a5a9"]},"legend":{"title":null,"orient":"none","legendX":617,"legendY":3}},"shape":{"datum":"Seg7","scale":{"domain":["Seg7","Anomaly - Seg7"],"range":["M-1,-.05H-.12V-.14H.12V-.05H1V.05H.12V.14H-.12V.05H-1Z","M-1,-.36H1V.36H-1Z"]}}}}
]}
]}
